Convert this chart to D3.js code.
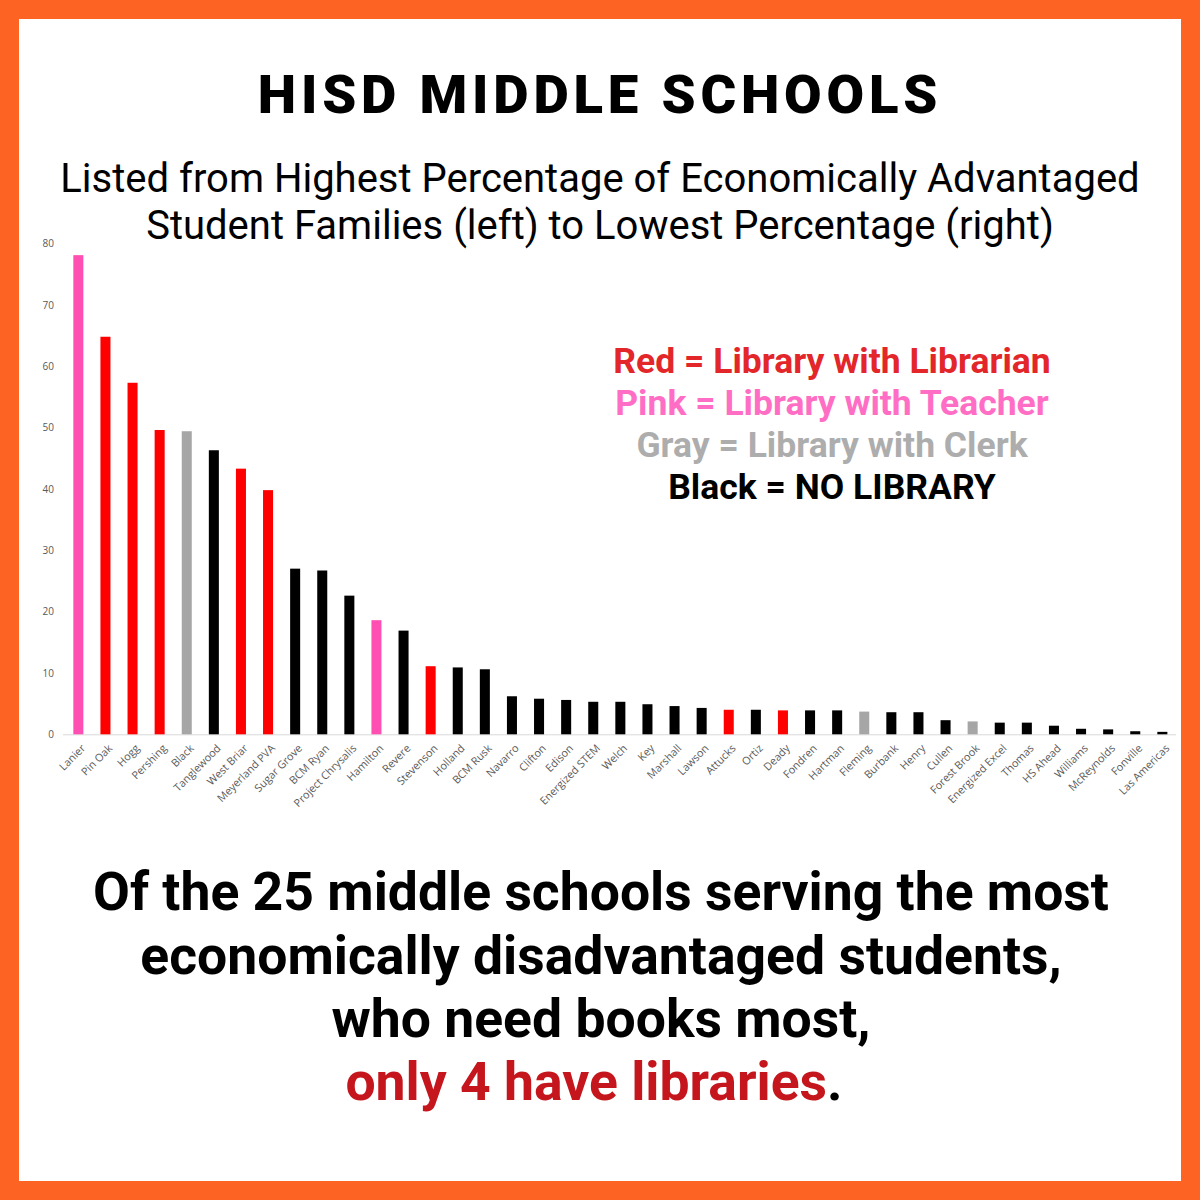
<!DOCTYPE html>
<html>
<head>
<meta charset="utf-8">
<script src="https://cdn.jsdelivr.net/npm/d3@7"></script>
<style>
  html, body { margin: 0; padding: 0; background: #fff; }
  svg { display: block; }
</style>
</head>
<body>
<svg id="chart" width="1200" height="1200"></svg>
<script>
const schools = ["Lanier","Pin Oak","Hogg","Pershing","Black","Tanglewood","West Briar","Meyerland PVA","Sugar Grove","BCM Ryan","Project Chrysalis","Hamilton","Revere","Stevenson","Holland","BCM Rusk","Navarro","Clifton","Edison","Energized STEM","Welch","Key","Marshall","Lawson","Attucks","Ortiz","Deady","Fondren","Hartman","Fleming","Burbank","Henry","Cullen","Forest Brook","Energized Excel","Thomas","HS Ahead","Williams","McReynolds","Fonville","Las Americas"];
const values = [78.1,64.8,57.3,49.6,49.4,46.3,43.3,39.8,27.0,26.7,22.6,18.6,16.9,11.1,10.9,10.6,6.2,5.8,5.6,5.3,5.3,4.9,4.6,4.3,4.0,4.0,3.9,3.9,3.9,3.7,3.6,3.6,2.3,2.1,1.9,1.9,1.4,0.9,0.8,0.5,0.4];
const libraryType = ["teacher","librarian","librarian","librarian","clerk","none","librarian","librarian","none","none","none","teacher","none","librarian","none","none","none","none","none","none","none","none","none","none","librarian","none","librarian","none","none","clerk","none","none","none","clerk","none","none","none","none","none","none","none"];
const yTicks = [0,10,20,30,40,50,60,70,80];
const typeKeys = ["librarian","teacher","clerk","none"];
const barColors = ["#ff0000","#ff4fb2","#a6a6a6","#000000"];
const legendLabels = ["Red = Library with Librarian","Pink = Library with Teacher","Gray = Library with Clerk","Black = NO LIBRARY"];
const legendColors = ["#e3262a","#ff6ec4","#adadad","#000000"];
const titleText = "HISD MIDDLE SCHOOLS";
const subtitleLines = ["Listed from Highest Percentage of Economically Advantaged","Student Families (left) to Lowest Percentage (right)"];
const bottomLines = ["Of the 25 middle schools serving the most","economically disadvantaged students,","who need books most,"];
const bottomRed = "only 4 have libraries";

const svg = d3.select("#chart");
// orange frame
svg.append("rect").attr("x",0).attr("y",0).attr("width",1200).attr("height",1200).attr("fill","#fd6424");
svg.append("rect").attr("x",19).attr("y",19).attr("width",1162).attr("height",1162).attr("fill","#ffffff");

// title
svg.append("text").attr("x",600).attr("y",113).attr("text-anchor","middle")
  .attr("font-family","Roboto").attr("font-weight",900).attr("font-size",54.5)
  .attr("letter-spacing",4.8).attr("fill","#000").text(titleText);

svg.selectAll("text.sub").data(subtitleLines).join("text").attr("class","sub")
  .attr("x",600).attr("y",(d,i)=>192+i*47).attr("text-anchor","middle")
  .attr("font-family","Roboto").attr("font-weight",400).attr("font-size",40)
  .attr("fill","#000").text(d=>d);

// chart
const x = d3.scaleBand().domain(schools).range([64.8,1175.9]).paddingInner(0.63).paddingOuter(0.315);
const y = d3.scaleLinear().domain([0,80]).range([734.3,243.5]);
const color = d3.scaleOrdinal().domain(typeKeys).range(barColors);

const g = svg.append("g");
g.append("line").attr("x1",63).attr("x2",1176).attr("y1",y(0)+0.5).attr("y2",y(0)+0.5)
  .attr("stroke","#d9d9d9").attr("stroke-width",1);

const yAxis = d3.axisLeft(y).tickValues(yTicks).tickSize(0).tickPadding(0);
const ya = g.append("g").attr("transform","translate(54,0)").call(yAxis);
ya.select(".domain").remove();
ya.selectAll("text").attr("font-family","Open Sans, Liberation Sans").attr("font-size",10).attr("fill","#595959");

g.selectAll("rect.bar").data(schools).join("rect").attr("class","bar")
  .attr("x",d=>x(d)).attr("width",x.bandwidth())
  .attr("y",(d,i)=>y(values[i])).attr("height",(d,i)=>y(0)-y(values[i]))
  .attr("fill",(d,i)=>color(libraryType[i]));

const xAxis = d3.axisBottom(x).tickSize(0).tickPadding(0);
const xa = g.append("g").attr("transform",`translate(0,${y(0)})`).call(xAxis);
xa.select(".domain").remove();
xa.selectAll("text")
  .attr("font-family","Open Sans, Liberation Sans").attr("font-size",10.8).attr("fill","#595959")
  .attr("text-anchor","end")
  .attr("transform","translate(5,12) rotate(-45)")
  .attr("dy","0.35em").attr("y",0);

// legend
svg.selectAll("text.leg").data(legendLabels).join("text").attr("class","leg")
  .attr("x",832).attr("y",(d,i)=>373+i*42).attr("text-anchor","middle")
  .attr("font-family","Roboto").attr("font-weight",700).attr("font-size",35.5)
  .attr("fill",(d,i)=>legendColors[i]).text(d=>d);

// bottom text
svg.selectAll("text.bot").data(bottomLines).join("text").attr("class","bot")
  .attr("x",601).attr("y",(d,i)=>910+i*63.5).attr("text-anchor","middle")
  .attr("font-family","Roboto").attr("font-weight",700).attr("font-size",53.5)
  .attr("fill","#000").text(d=>d);
const last = svg.append("text").attr("x",594).attr("y",1100).attr("text-anchor","middle")
  .attr("font-family","Roboto").attr("font-weight",700).attr("font-size",53.5);
last.append("tspan").attr("fill","#c4161c").text(bottomRed);
last.append("tspan").attr("fill","#000").text(".");
</script>
</body>
</html>
